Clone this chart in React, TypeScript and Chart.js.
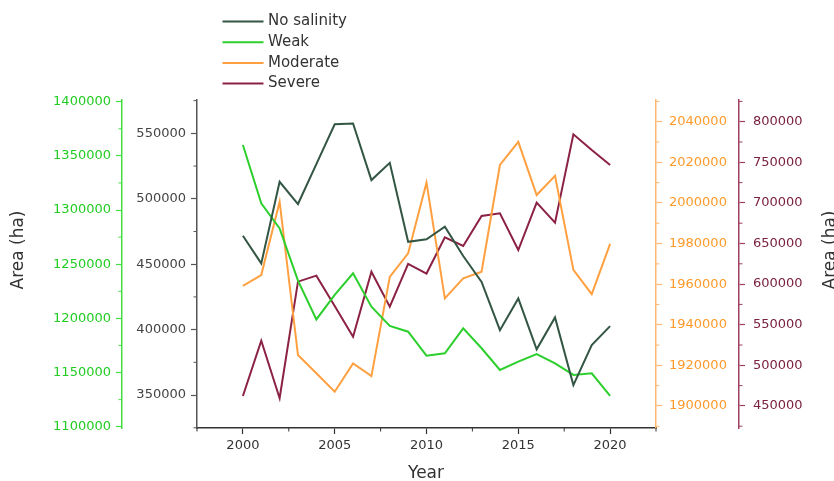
import React, { useEffect, useRef } from "react";
import { Chart, registerables } from "chart.js";

Chart.register(...registerables);

const years = [2000, 2001, 2002, 2003, 2004, 2005, 2006, 2007, 2008, 2009, 2010, 2011, 2012, 2013, 2014, 2015, 2016, 2017, 2018, 2019, 2020];
const noSalinity = [471700, 450600, 513000, 496000, 526500, 556900, 557600, 514300, 527500, 467100, 469000, 478600, 456300, 436500, 399600, 423800, 384900, 409300, 357600, 388200, 402700];
const weak = [1360000, 1306200, 1283000, 1234800, 1199000, 1221600, 1241600, 1210800, 1193000, 1187700, 1165600, 1167800, 1190800, 1172400, 1152400, 1160000, 1167100, 1158500, 1147800, 1149300, 1128400];
const moderate = [1959100, 1964500, 2000600, 1925100, 1916100, 1907000, 1921000, 1914700, 1963600, 1975200, 2010000, 1953000, 1962900, 1966100, 2018700, 2030100, 2003900, 2013300, 1967000, 1955100, 1979800];
const severe = [462200, 530300, 459400, 603000, 610400, 573000, 535200, 615300, 572200, 624800, 613000, 657600, 646900, 683900, 687200, 642000, 700300, 675600, 784500, 765100, 746700];

const seriesNames = ["No salinity", "Weak", "Moderate", "Severe"];
const xTicks = [2000, 2005, 2010, 2015, 2020];
const noSalinityTicks = [350000, 400000, 450000, 500000, 550000];
const weakTicks = [1100000, 1150000, 1200000, 1250000, 1300000, 1350000, 1400000];
const moderateTicks = [1900000, 1920000, 1940000, 1960000, 1980000, 2000000, 2020000, 2040000];
const severeTicks = [450000, 500000, 550000, 600000, 650000, 700000, 750000, 800000];
const yTitle = "Area (ha)";
const xTitle = "Year";

const FONT = '"DejaVu Sans", sans-serif';

const pts = (arr: number[]) => years.map((yr, i) => ({ x: yr, y: arr[i] }));

const minorOf = (ticks: number[]) => {
  const step = ticks[1] - ticks[0];
  const out: number[] = [ticks[0] - step / 2];
  ticks.forEach((t) => out.push(t + step / 2));
  return out;
};

const yAxis = (
  position: "left" | "right",
  min: number,
  max: number,
  ticks: number[],
  axisColor: string,
  labelColor: string,
  width: number,
  pad: number
) => ({
  type: "linear",
  position,
  min,
  max,
  afterBuildTicks: (s: any) => {
    s.ticks = ticks.map((v) => ({ value: v }));
  },
  afterFit: (s: any) => {
    s.width = width;
  },
  ticks: {
    callback: (v: any) => String(v),
    color: labelColor,
    font: { family: FONT, size: 13 },
    padding: pad,
  },
  grid: {
    display: true,
    drawOnChartArea: false,
    drawTicks: true,
    tickLength: 6,
    tickColor: axisColor,
    tickWidth: 1.2,
  },
  border: { display: true, color: axisColor, width: 1.5 },
});

const minorTicks: Record<string, number[]> = {
  x: minorOf(xTicks),
  yNo: minorOf(noSalinityTicks),
  yWeak: minorOf(weakTicks),
  yMod: minorOf(moderateTicks),
  ySev: minorOf(severeTicks),
};

const decor = {
  id: "decor",
  afterDraw(chart: any) {
    const ctx = chart.ctx as CanvasRenderingContext2D;
    ctx.save();
    // minor ticks
    Object.keys(minorTicks).forEach((id) => {
      const sc = chart.scales[id];
      if (!sc) return;
      ctx.strokeStyle = sc.options.grid.tickColor;
      ctx.lineWidth = 1;
      minorTicks[id].forEach((v) => {
        if (v < sc.min || v > sc.max) return;
        const p = sc.getPixelForValue(v);
        ctx.beginPath();
        if (id === "x") {
          ctx.moveTo(p, sc.top);
          ctx.lineTo(p, sc.top + 3.5);
        } else if (sc.position === "left") {
          ctx.moveTo(sc.right, p);
          ctx.lineTo(sc.right - 3.5, p);
        } else {
          ctx.moveTo(sc.left, p);
          ctx.lineTo(sc.left + 3.5, p);
        }
        ctx.stroke();
      });
    });
    // legend
    chart.data.datasets.forEach((ds: any, i: number) => {
      const y = 21.5 + i * 20.7;
      ctx.strokeStyle = ds.borderColor;
      ctx.lineWidth = 2;
      ctx.beginPath();
      ctx.moveTo(222.5, y);
      ctx.lineTo(263.5, y);
      ctx.stroke();
      ctx.fillStyle = "#333";
      ctx.font = `15px ${FONT}`;
      ctx.textBaseline = "middle";
      ctx.textAlign = "left";
      ctx.fillText(ds.label, 268, y);
    });
    ctx.font = `17px ${FONT}`;
    ctx.fillStyle = "#333";
    ctx.textAlign = "center";
    ctx.textBaseline = "middle";
    ctx.fillText(xTitle, 426, 474);
    for (const cx of [18.5, 830.5]) {
      ctx.save();
      ctx.translate(cx, 250);
      ctx.rotate(-Math.PI / 2);
      ctx.fillText(yTitle, 0, 0);
      ctx.restore();
    }
    ctx.restore();
  },
};

export default function App() {
  const ref = useRef<HTMLCanvasElement>(null);
  useEffect(() => {
    if (!ref.current) return;
    const colors = ["#335544", "#2ccf2c", "#ffa040", "#8b2244"];
    const arrays = [noSalinity, weak, moderate, severe];
    const axes = ["yNo", "yWeak", "yMod", "ySev"];
    const chart = new Chart(ref.current, {
      type: "line",
      data: {
        datasets: arrays.map((arr, i) => ({
          label: seriesNames[i],
          data: pts(arr),
          borderColor: colors[i],
          backgroundColor: colors[i],
          borderWidth: 2,
          pointRadius: 0,
          tension: 0,
          yAxisID: axes[i],
        })),
      },
      options: {
        animation: false,
        responsive: false,
        layout: { padding: { top: 100, left: 0, right: 0, bottom: 0 } },
        plugins: { legend: { display: false }, tooltip: { enabled: false } },
        scales: {
          x: {
            type: "linear",
            min: 1997.5,
            max: 2022.5,
            afterBuildTicks: (s: any) => {
              s.ticks = xTicks.map((v) => ({ value: v }));
            },
            afterFit: (s: any) => {
              s.height = 53;
            },
            ticks: {
              callback: (v: any) => String(v),
              color: "#333",
              font: { family: FONT, size: 13 },
              padding: 4,
              maxRotation: 0,
            },
            grid: {
              display: true,
              drawOnChartArea: false,
              drawTicks: true,
              tickLength: 6,
              tickColor: "#333",
              tickWidth: 1.2,
            },
            border: { display: true, color: "#333", width: 1.5 },
          },
          yNo: yAxis("left", 324800, 575500, noSalinityTicks, "#555", "#444", 75, 5),
          yWeak: yAxis("left", 1098800, 1401570, weakTicks, "#44dd44", "#22cc22", 122, 5),
          yMod: yAxis("right", 1889160, 2050690, moderateTicks, "#ffb870", "#ff9a2a", 83, 7),
          ySev: yAxis("right", 422790, 826720, severeTicks, "#a04060", "#7a2040", 95, 8),
        } as any,
      },
      plugins: [decor],
    });
    return () => chart.destroy();
  }, []);
  return (
    <div style={{ position: "fixed", left: 0, top: 0, width: 834, height: 481, background: "#fff" }}>
      <canvas ref={ref} width={834} height={481} style={{ display: "block" }} />
    </div>
  );
}
